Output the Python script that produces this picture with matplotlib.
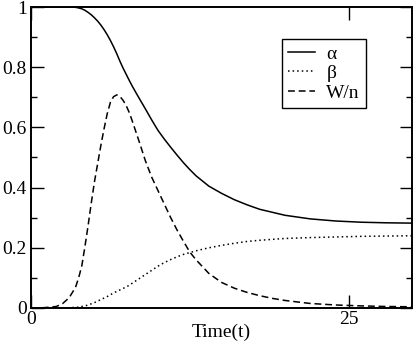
import matplotlib
matplotlib.use("Agg")
import matplotlib.pyplot as plt
from matplotlib.ticker import MultipleLocator, FixedLocator

# ---- data ----
t = [0, 1, 2, 2.5, 3, 3.5, 3.75, 4, 4.25, 4.5, 4.75, 5, 5.25, 5.5, 5.75, 6, 6.25,
     6.5, 6.75, 7, 7.25, 7.5, 7.75, 8, 8.5, 9, 9.5, 10, 10.5, 11, 11.5, 12,
     12.5, 13, 14, 15, 16, 17, 18, 19, 20, 22, 24, 26, 28, 30]

alpha = [1.0, 1.0, 1.0, 1.0, 1.0, 0.999, 0.997, 0.994, 0.989, 0.982, 0.974, 0.964,
         0.953, 0.940, 0.925, 0.908, 0.889, 0.868, 0.845, 0.820, 0.797, 0.776,
         0.755, 0.735, 0.698, 0.662, 0.625, 0.590, 0.561, 0.534, 0.508, 0.483,
         0.460, 0.439, 0.405, 0.381, 0.360, 0.343, 0.328, 0.318, 0.308, 0.296,
         0.289, 0.285, 0.283, 0.282]

beta = [0.0, 0.0, 0.0, 0.0, 0.001, 0.002, 0.003, 0.005, 0.007, 0.010, 0.014, 0.018,
        0.023, 0.028, 0.033, 0.038, 0.044, 0.050, 0.055, 0.060, 0.065, 0.070,
        0.076, 0.083, 0.097, 0.111, 0.125, 0.139, 0.151, 0.161, 0.170, 0.178,
        0.184, 0.190, 0.200, 0.208, 0.215, 0.221, 0.225, 0.228, 0.231, 0.234,
        0.236, 0.238, 0.239, 0.240]

wn = [0.0, 0.001, 0.005, 0.015, 0.034, 0.068, 0.100, 0.140, 0.205, 0.275, 0.350,
      0.420, 0.480, 0.540, 0.595, 0.645, 0.683, 0.702, 0.708, 0.703, 0.690,
      0.672, 0.648, 0.618, 0.555, 0.490, 0.435, 0.390, 0.345, 0.300, 0.259,
      0.222, 0.186, 0.160, 0.115, 0.085, 0.066, 0.052, 0.041, 0.032, 0.025,
      0.015, 0.010, 0.007, 0.005, 0.004]

labels = ["\u03b1", "\u03b2", "W/n"]
xticks = [0, 25]
xtick_labels = ["0", "25"]
yticks = [0, 0.2, 0.4, 0.6, 0.8, 1.0]
ytick_labels = ["0", "0.2", "0.4", "0.6", "0.8", "1"]

plt.rcParams["font.family"] = ["Liberation Serif", "DejaVu Serif"]

fig = plt.figure(figsize=(4.15, 3.52), dpi=100)
ax = fig.add_axes([31 / 415, 44 / 352, 381 / 415, 301 / 352])

ax.plot(t, alpha, color="black", lw=1.1, label=labels[0])
ax.plot(t, beta, color="black", lw=1.1, linestyle=(0, (1, 2)), label=labels[1])
ax.plot(t, wn, color="black", lw=1.1, linestyle=(0, (4.5, 2.5)), label=labels[2])

ax.set_xlim(0, 30)
ax.set_ylim(0, 1)

ax.xaxis.set_major_locator(FixedLocator(xticks))
ax.set_xticklabels(xtick_labels)
ax.yaxis.set_major_locator(FixedLocator(yticks))
ax.set_yticklabels(ytick_labels)
ax.yaxis.set_minor_locator(MultipleLocator(0.1))

ax.tick_params(which="both", direction="in", top=True, right=True,
               labelsize=14, width=1.0)
ax.tick_params(axis="y", which="major", length=9, pad=3)
ax.tick_params(axis="y", which="minor", length=4.5)
ax.tick_params(axis="x", which="major", length=9.5, pad=2)
for s in ax.spines.values():
    s.set_linewidth(1.4)

ax.set_xlabel("Time(t)", fontsize=14, labelpad=-3)

leg = ax.legend(loc="upper left", bbox_to_anchor=(0.658, 0.893),
                borderaxespad=0, fancybox=False, edgecolor="black",
                framealpha=1, fontsize=14, handlelength=1.4,
                handletextpad=0.6, borderpad=0.3, labelspacing=0.1)
leg.get_frame().set_linewidth(1.0)

fig.savefig("out.png", dpi=100)
